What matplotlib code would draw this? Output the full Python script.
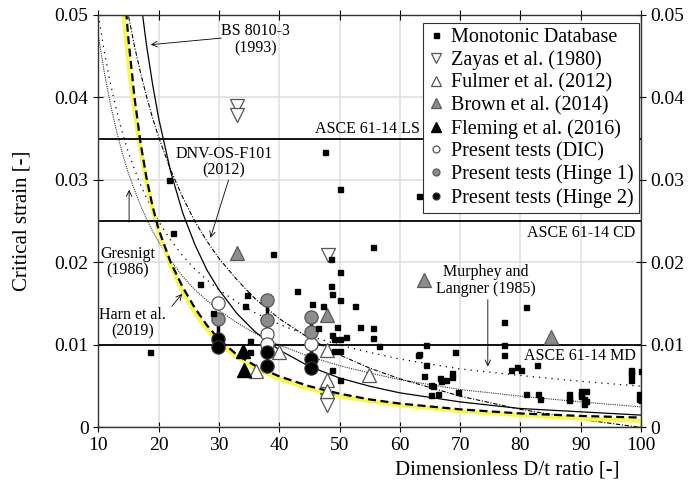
import matplotlib
matplotlib.use("Agg")
from matplotlib import pyplot as plt

plt.rcParams['font.family'] = 'serif'
plt.rcParams['font.serif'] = ['Liberation Serif', 'DejaVu Serif']

# design curves, critical strain vs D/t
dt_grid = [10, 11, 12, 13, 14, 15, 16, 17, 18, 19, 20, 22, 24, 26, 28, 30, 33, 36, 40, 45, 50, 55, 60, 70, 80, 90, 100]
murphey = [0.0500, 0.0455, 0.0417, 0.0385, 0.0357, 0.0333, 0.0313, 0.0294, 0.0278, 0.0263, 0.0250, 0.0227, 0.0208, 0.0192,
           0.0179, 0.0167, 0.0152, 0.0139, 0.0125, 0.0111, 0.0100, 0.0091, 0.0083, 0.0071, 0.0063, 0.0056, 0.0050]
gresnigt = [0.0475, 0.0430, 0.0392, 0.0360, 0.0332, 0.0308, 0.0288, 0.0269, 0.0253, 0.0238, 0.0225, 0.0202, 0.0183, 0.0167,
            0.0154, 0.0142, 0.0127, 0.0114, 0.0100, 0.0086, 0.0075, 0.0066, 0.0058, 0.0046, 0.0038, 0.0031, 0.0025]

bs_dt = [17, 18, 19, 20, 22, 24, 26, 28, 30, 33, 36, 40, 45, 50, 55, 60, 70, 80, 90, 100]
bs8010 = [0.0519, 0.0463, 0.0416, 0.0375, 0.0310, 0.0260, 0.0222, 0.0191, 0.0167, 0.0138, 0.0116, 0.0094, 0.0074, 0.0060,
          0.0050, 0.0042, 0.0031, 0.0023, 0.0019, 0.0015]

dt14 = [14, 15, 16, 17, 18, 19, 20, 22, 24, 26, 28, 30, 33, 36, 40, 45, 50, 55, 60, 70, 80, 90, 100]
dnv = [0.0541, 0.0499, 0.0462, 0.0430, 0.0401, 0.0375, 0.0352, 0.0312, 0.0279, 0.0250, 0.0226, 0.0205, 0.0179, 0.0156,
       0.0132, 0.0108, 0.0088, 0.0072, 0.0059, 0.0038, 0.0022, 0.0010, 0.0000]
harn = [0.0560, 0.0470, 0.0400, 0.0345, 0.0302, 0.0268, 0.0240, 0.0200, 0.0170, 0.0145, 0.0124, 0.0107, 0.0088, 0.0075,
        0.0062, 0.0050, 0.0041, 0.0034, 0.0029, 0.0022, 0.0017, 0.0014, 0.0012]
yellow = [0.0511, 0.0440, 0.0383, 0.0336, 0.0296, 0.0264, 0.0238, 0.0196, 0.0164, 0.0139, 0.0119, 0.0103, 0.0085, 0.0072,
          0.0059, 0.0047, 0.0038, 0.0032, 0.0027, 0.0020, 0.0015, 0.0011, 0.0008]

# ASCE 61-14 limits
asce_eps = [0.035, 0.025, 0.010]
asce_lbl = ['ASCE 61-14 LS', 'ASCE 61-14 CD', 'ASCE 61-14 MD']

# monotonic database
db_dt = [47.6, 50.0, 63.2, 21.8, 22.4, 39.0, 55.5, 48.6, 50.1, 48.6, 43.0, 48.7, 50.1, 52.6, 45.4, 47.3, 55.5, 53.4,
         55.5, 56.5, 49.6, 46.5, 48.7, 49.1, 50.1, 51.0, 49.1, 50.1, 48.7, 50.1, 35.2, 35.2, 34.6, 34.4, 26.8, 18.5,
         29.0, 63.2, 81.0, 77.2, 77.2, 77.2, 64.4, 63.1, 64.4, 69.1, 64.0, 65.1, 65.5, 66.7, 66.9, 67.7, 68.6, 68.6,
         65.2, 66.4, 69.6, 78.5, 79.5, 80.1, 82.7, 81.0, 82.9, 83.2, 88.0, 88.0, 88.0, 90.0, 90.0, 90.1, 90.8, 90.6,
         90.8, 90.6, 98.4, 98.4, 98.4, 98.4, 100.0, 99.6, 99.6, 100.0]
db_eps = [0.0334, 0.0289, 0.0280, 0.0300, 0.0236, 0.0210, 0.0219, 0.0204, 0.0188, 0.0172, 0.0166, 0.0162, 0.0155,
          0.0147, 0.0150, 0.0147, 0.0121, 0.0122, 0.0108, 0.0099, 0.0122, 0.0121, 0.0112, 0.0107, 0.0107, 0.0110,
          0.0093, 0.0093, 0.0070, 0.0058, 0.0105, 0.0092, 0.0161, 0.0147, 0.0174, 0.0091, 0.0139, 0.0089, 0.0146,
          0.0128, 0.0100, 0.0088, 0.0100, 0.0088, 0.0076, 0.0091, 0.0063, 0.0052, 0.0050, 0.0060, 0.0056, 0.0057,
          0.0066, 0.0061, 0.0039, 0.0041, 0.0043, 0.0070, 0.0073, 0.0070, 0.0076, 0.0041, 0.0041, 0.0035, 0.0041,
          0.0036, 0.0033, 0.0044, 0.0041, 0.0038, 0.0044, 0.0034, 0.0032, 0.0028, 0.0070, 0.0067, 0.0064, 0.0058,
          0.0068, 0.0041, 0.0035, 0.0033]

zayas_dt = [33.0, 33.0, 48.1, 48.0, 48.0]
zayas_eps = [0.0390, 0.0379, 0.0209, 0.0033, 0.0027]
fulmer_dt = [36.1, 40.0, 47.9, 47.9, 47.9, 54.9]
fulmer_eps = [0.0068, 0.0092, 0.0094, 0.0058, 0.0044, 0.0064]
brown_dt = [33.0, 48.0, 64.0, 85.0]
brown_eps = [0.0211, 0.0136, 0.0179, 0.0110]
fleming_dt = [34.0, 34.1]
fleming_eps = [0.0093, 0.0070]

# present tests
dic_dt = [29.8, 37.9, 37.9, 45.2]
dic_eps = [0.0151, 0.0113, 0.0101, 0.0101]
h1_dt = [29.8, 37.9, 37.9, 45.2, 45.2]
h1_eps = [0.0132, 0.0154, 0.0130, 0.0134, 0.0116]
h2_dt = [29.8, 29.8, 37.9, 37.9, 45.2, 45.2]
h2_eps = [0.0107, 0.0097, 0.0091, 0.0075, 0.0083, 0.0072]

xticks = [10, 20, 30, 40, 50, 60, 70, 80, 90, 100]
yticks = [0, 0.01, 0.02, 0.03, 0.04, 0.05]
ylabels = ['0', '0.01', '0.02', '0.03', '0.04', '0.05']

fig = plt.figure(figsize=(6.91, 4.88), dpi=100)
ax = fig.add_axes([0.1423, 0.124, 0.7853, 0.8453])

ax.grid(True, color='#dedede', lw=1.1, zorder=0)
ax.set_axisbelow(True)

# curves
ax.plot(dt_grid, murphey, color='k', lw=0.9, ls=(0, (1, 4)), zorder=2)
ax.plot(dt_grid, gresnigt, color='#333333', lw=0.8, ls=(0, (1, 1)), zorder=2)
ax.plot(bs_dt, bs8010, color='k', lw=0.9, zorder=2)
ax.plot(dt14, dnv, color='k', lw=0.8, ls=(0, (4, 1.5, 1, 1.5)), zorder=2)
ax.plot(dt14, yellow, color='#f8f84a', lw=3.0, zorder=2, solid_capstyle='butt')
ax.plot(dt14, harn, color='k', lw=1.6, ls=(0, (3.6, 2.0)), zorder=2)

for e in asce_eps:
    ax.axhline(e, color='k', lw=1.3, zorder=2)
ax.text(63.3, 0.0352, asce_lbl[0], ha='right', va='bottom', fontsize=11.5)
ax.text(99.1, 0.0246, asce_lbl[1], ha='right', va='top', fontsize=11.5)
ax.text(99.1, 0.0096, asce_lbl[2], ha='right', va='top', fontsize=11.5)

# vertical bars between hinge results
for d in sorted(set(h1_dt)):
    top = max(v for x, v in zip(h1_dt, h1_eps) if x == d)
    bot = min(v for x, v in zip(h2_dt, h2_eps) if x == d)
    ax.plot([d, d], [bot, top], color='k', lw=2.5, zorder=3)

ax.plot(db_dt, db_eps, 's', color='k', ms=3.6, ls='none', zorder=6, label='Monotonic Database')
ax.plot(zayas_dt, zayas_eps, 'v', mfc='white', mec='#555555', mew=0.9, ms=10.5, ls='none', zorder=4,
        label='Zayas et al. (1980)')
ax.plot(fulmer_dt, fulmer_eps, '^', mfc='white', mec='#555555', mew=0.9, ms=10.5, ls='none', zorder=4,
        label='Fulmer et al. (2012)')
ax.plot(brown_dt, brown_eps, '^', mfc='#8c8c8c', mec='#5a5a5a', mew=0.9, ms=10.5, ls='none', zorder=4,
        label='Brown et al. (2014)')
ax.plot(fleming_dt, fleming_eps, '^', mfc='k', mec='k', ms=10.5, ls='none', zorder=4,
        label='Fleming et al. (2016)')
ax.plot(dic_dt, dic_eps, 'o', mfc='white', mec='#555555', mew=0.9, ms=9.5, ls='none', zorder=5,
        label='Present tests (DIC)')
ax.plot(h1_dt, h1_eps, 'o', mfc='#8c8c8c', mec='#555555', mew=0.9, ms=9.5, ls='none', zorder=5,
        label='Present tests (Hinge 1)')
ax.plot(h2_dt, h2_eps, 'o', mfc='k', mec='#333333', mew=0.9, ms=9.5, ls='none', zorder=5,
        label='Present tests (Hinge 2)')

# annotations
arw = dict(arrowstyle='->', color='k', lw=0.6, shrinkA=0, shrinkB=0)
ax.text(36.0, 0.0470, 'BS 8010-3\n(1993)', ha='center', va='center', fontsize=11.5, linespacing=1.05)
ax.annotate('', xy=(18.7, 0.0464), xytext=(30.4, 0.0472), arrowprops=arw)
ax.text(30.8, 0.0322, 'DNV-OS-F101\n(2012)', ha='center', va='center', fontsize=11.5, linespacing=1.05)
ax.annotate('', xy=(28.6, 0.0230), xytext=(31.6, 0.0300), arrowprops=arw)
ax.text(14.9, 0.0200, 'Gresnigt\n(1986)', ha='center', va='center', fontsize=11.5, linespacing=1.05)
ax.annotate('', xy=(15.1, 0.0288), xytext=(15.1, 0.0249), arrowprops=arw)
ax.text(15.7, 0.0126, 'Harn et al.\n(2019)', ha='center', va='center', fontsize=11.5, linespacing=1.05)
ax.annotate('', xy=(23.9, 0.0162), xytext=(22.2, 0.0147), arrowprops=arw)
ax.text(74.2, 0.0178, 'Murphey and\nLangner (1985)', ha='center', va='center', fontsize=11.5, linespacing=1.05)
ax.annotate('', xy=(74.6, 0.0074), xytext=(74.6, 0.0155), arrowprops=arw)

ax.set_xlim(10, 100)
ax.set_ylim(0, 0.05)
ax.set_xticks(xticks)
ax.set_yticks(yticks)
ax.set_yticklabels(ylabels)
ax.tick_params(direction='inout', length=7, width=0.8, labelsize=14, top=True, right=True, labelright=True)
for s in ax.spines.values():
    s.set_color('#333333')
    s.set_linewidth(1.0)

ax.set_xlabel('Dimensionless D/t ratio [-]', fontsize=15)
ax.xaxis.set_label_coords(0.753, -0.08)
ax.set_ylabel('Critical strain [-]', fontsize=15)
ax.yaxis.set_label_coords(-0.123, 0.5)

leg = ax.legend(loc='upper right', bbox_to_anchor=(0.996, 0.981), borderaxespad=0, fontsize=14.5,
                labelspacing=0.17, handlelength=0.8, handletextpad=0.35, borderpad=0.25,
                fancybox=False, framealpha=1, edgecolor='#333333')
leg.get_frame().set_linewidth(0.8)
for h, s in zip(leg.legend_handles, [3.6, 7.5, 7.5, 7.5, 7.5, 5.0, 5.0, 5.0]):
    h.set_markersize(s)

plt.savefig('out.png', dpi=100)
